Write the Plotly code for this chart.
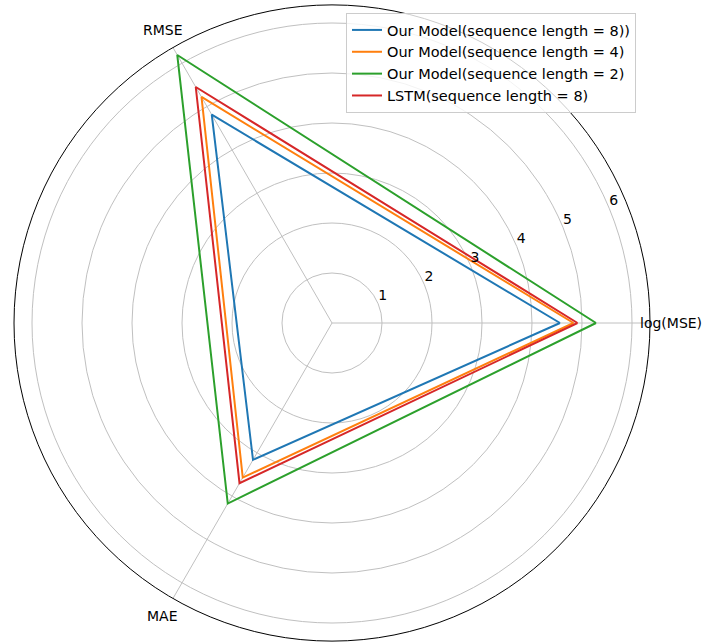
import math
import plotly.graph_objects as go

categories = ["log(MSE)", "RMSE", "MAE"]
category_angles = [0, 120, 240]
series_names = [
    "Our Model(sequence length = 8))",
    "Our Model(sequence length = 4)",
    "Our Model(sequence length = 2)",
    "LSTM(sequence length = 8)",
]
model_seq8 = [4.56, 4.81, 3.16]
model_seq4 = [4.83, 5.22, 3.57]
model_seq2 = [5.28, 6.19, 4.17]
lstm_seq8 = [4.91, 5.45, 3.70]
radial_ticks = [1, 2, 3, 4, 5, 6]

colors = ["#1f77b4", "#ff7f0e", "#2ca02c", "#d62728"]
all_values = [model_seq8, model_seq4, model_seq2, lstm_seq8]

R_MAX = 6.36         # radial axis extent
LABEL_R = 6.77       # where the category labels sit (in radial units)
RLABEL_ANGLE = 22.5  # angle of radial tick labels

fig = go.Figure()
for name, vals, col in zip(series_names, all_values, colors):
    fig.add_trace(go.Scatterpolar(
        r=vals + [vals[0]],
        theta=category_angles + [category_angles[0]],
        mode="lines",
        name=name,
        line=dict(color=col, width=2),
    ))

# radial tick labels (upright, matplotlib style)
fig.add_trace(go.Scatterpolar(
    r=radial_ticks,
    theta=[RLABEL_ANGLE] * len(radial_ticks),
    mode="text",
    text=[str(t) for t in radial_ticks],
    textposition="top right",
    textfont=dict(size=14, color="#000000", family="DejaVu Sans"),
    showlegend=False,
    hoverinfo="skip",
))

W, H = 703, 644
cx, cy, rad = 332, 323, 318
px_per_unit = rad / R_MAX

# category labels placed just outside the polar frame
annotations = []
for lab, ang in zip(categories, category_angles):
    a = math.radians(ang)
    px = cx + LABEL_R * px_per_unit * math.cos(a)
    py = cy - LABEL_R * px_per_unit * math.sin(a)
    annotations.append(dict(
        x=px / W, y=1 - py / H, xref="paper", yref="paper",
        text=lab, showarrow=False, xanchor="center", yanchor="middle",
        font=dict(size=14, color="#000000", family="DejaVu Sans"),
    ))

fig.update_layout(
    width=W, height=H,
    margin=dict(l=0, r=0, t=0, b=0),
    paper_bgcolor="white",
    font=dict(family="DejaVu Sans", size=14, color="#000000"),
    annotations=annotations,
    polar=dict(
        domain=dict(x=[(cx - rad) / W, (cx + rad) / W],
                    y=[max(0, 1 - (cy + rad) / H), min(1, 1 - (cy - rad) / H)]),
        bgcolor="white",
        radialaxis=dict(
            range=[0, R_MAX],
            tickvals=radial_ticks,
            showticklabels=False,
            angle=RLABEL_ANGLE,
            showline=False,
            ticks="",
            gridcolor="#c0c0c0",
            gridwidth=1,
        ),
        angularaxis=dict(
            type="linear",
            rotation=0,
            direction="counterclockwise",
            tickmode="array",
            tickvals=category_angles,
            showticklabels=False,
            showline=True,
            linecolor="#000000",
            linewidth=1,
            gridcolor="#c0c0c0",
            gridwidth=1,
            ticks="",
        ),
    ),
    legend=dict(
        x=346 / W, y=1 - 13 / H, xanchor="left", yanchor="top",
        bgcolor="rgba(255,255,255,0.8)",
        bordercolor="#cccccc", borderwidth=1,
        font=dict(size=14.5, family="DejaVu Sans", color="#000000"),
        tracegroupgap=0,
    ),
)

fig.write_html("out.html", config={"displayModeBar": False},
               post_script="document.body.style.margin='0';")
